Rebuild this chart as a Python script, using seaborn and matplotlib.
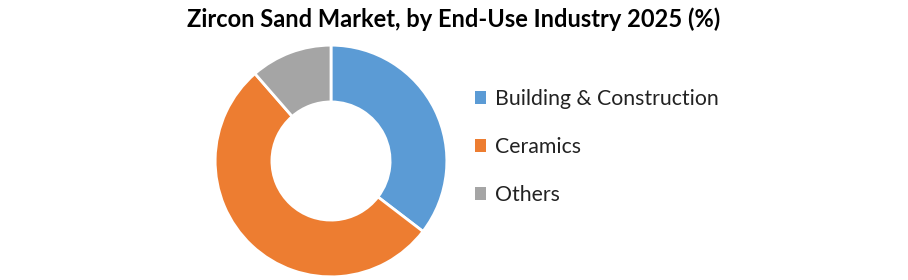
import matplotlib
matplotlib.use("Agg")
import matplotlib.pyplot as plt
import seaborn as sns
from matplotlib.patches import Patch

categories = ["Building & Construction", "Ceramics", "Others"]
shares = [35.4, 53.2, 11.4]
colors = ["#5B9BD5", "#ED7D31", "#A5A5A5"]
title = "Zircon Sand Market, by End-Use Industry 2025 (%)"

sns.set_theme(style="white")
plt.rcParams["font.family"] = ["Lato", "DejaVu Sans"]
palette = sns.color_palette(colors)

W, H = 908, 280
fig = plt.figure(figsize=(W / 100, H / 100), dpi=100)
fig.patch.set_facecolor("white")

cx, cy, r = 331, 161, 117
ax = fig.add_axes([(cx - r) / W, (H - cy - r) / H, 2 * r / W, 2 * r / H])
wedges, _ = ax.pie(shares, colors=palette, startangle=90, counterclock=False,
                   radius=1.0,
                   wedgeprops=dict(width=0.49, edgecolor="white", linewidth=2))
ax.set_xlim(-1.01, 1.01)
ax.set_ylim(-1.01, 1.01)
ax.set_aspect("equal")
ax.axis("off")

fig.text(0.5, 1 - 19 / H, title, ha="center", va="center",
         fontsize=17, fontweight="bold", color="black")

handles = [Patch(facecolor=c, edgecolor="none") for c in palette]
fig.legend(handles, categories, loc="center left",
           bbox_to_anchor=(466 / W, 1 - 147 / H), frameon=False,
           fontsize=15.3, handlelength=0.55, handleheight=0.55,
           handletextpad=0.4, labelspacing=1.32, borderaxespad=0,
           labelcolor="#222222")

fig.savefig("out.png", dpi=100, facecolor="white")
